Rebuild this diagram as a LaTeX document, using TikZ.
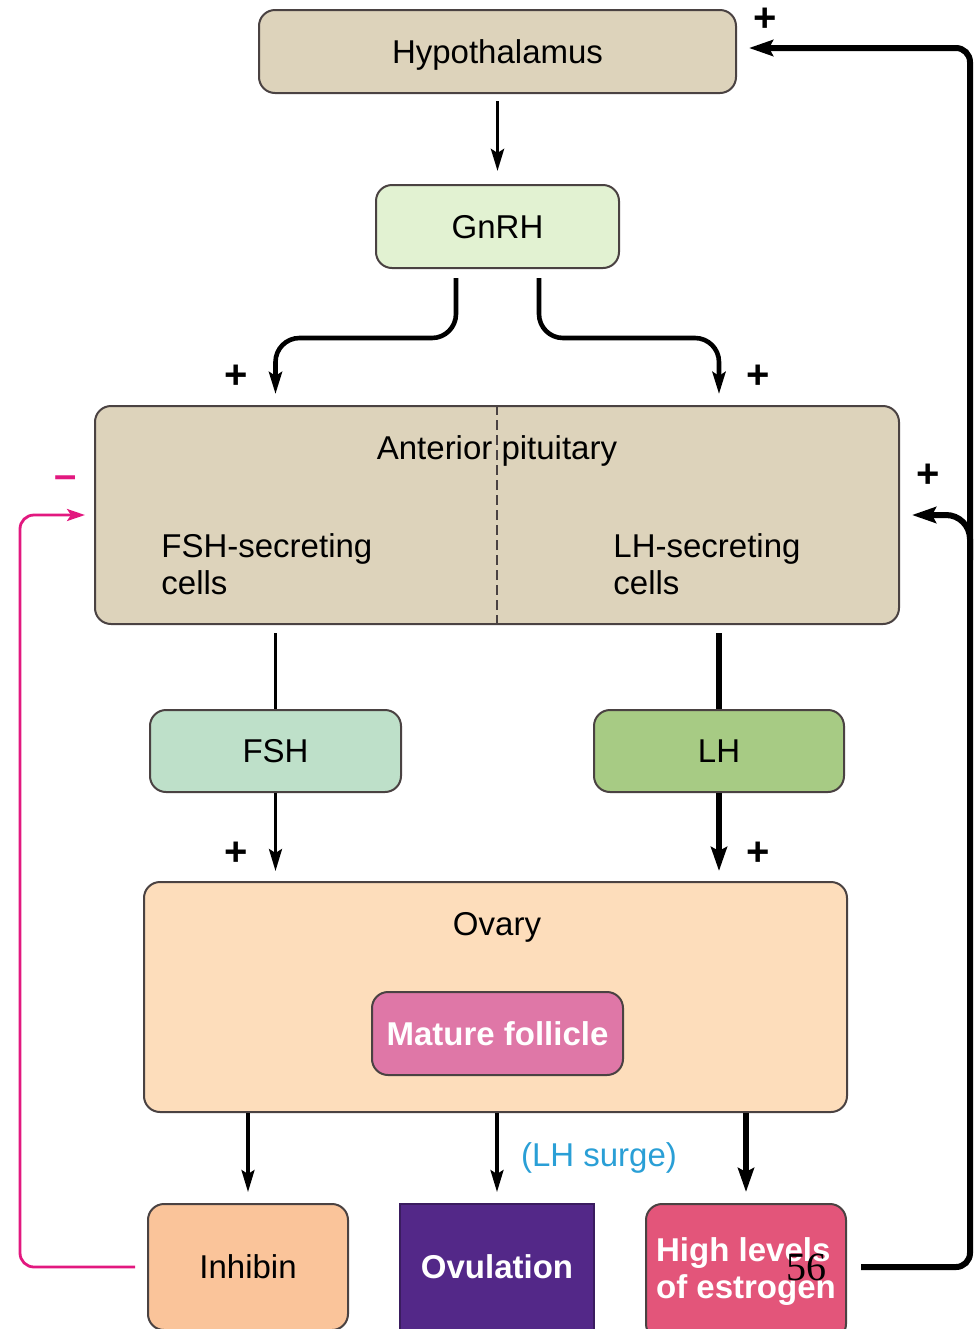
\documentclass[tikz,border=0pt]{standalone}
\usepackage{fontspec}
\setmainfont{Liberation Sans}
\newfontfamily\pagefont{Liberation Serif}
\usetikzlibrary{arrows.meta}

\definecolor{boxline}{HTML}{4A4242}
\definecolor{tanbox}{HTML}{DDD3BB}
\definecolor{gnrhgreen}{HTML}{E2F2D2}
\definecolor{fshgreen}{HTML}{BEE0C9}
\definecolor{lhgreen}{HTML}{A7CB84}
\definecolor{ovarypeach}{HTML}{FDDDBB}
\definecolor{folliclepink}{HTML}{DF77A7}
\definecolor{inhibinorange}{HTML}{FAC49A}
\definecolor{ovpurple}{HTML}{532888}
\definecolor{estrogenred}{HTML}{E3557A}
\definecolor{surgeblue}{HTML}{2A9FD6}
\definecolor{inhpink}{HTML}{E2187F}

\tikzset{
  box/.style={draw=boxline, line width=1pt, rounded corners=8pt, inner sep=0pt,
    align=center, font=\fontsize{16.5}{18.5}\selectfont},
  onel/.style={text height=11.9pt, text depth=0pt},
  lbl/.style={inner sep=0pt, font=\fontsize{16.5}{18.5}\selectfont},
  whitebold/.style={text=white, font=\fontsize{16.5}{18.5}\selectfont\bfseries},
  plus/.style={inner sep=0pt, font=\fontsize{20}{20}\selectfont\bfseries},
  arr/.style={line width=1.6pt, -{Stealth[length=11pt,width=6.5pt,inset=2pt]}},
  bigarr/.style={line width=2.8pt, -{Stealth[length=12pt,width=8pt,inset=2pt]}},
  fb/.style={line width=3pt, rounded corners=7pt, -{Stealth[length=12pt,width=8pt,inset=2pt]}},
  inh/.style={draw=inhpink, line width=1.4pt, rounded corners=7pt,
    -{Stealth[length=9pt,width=6pt,inset=2pt]}}
}

\begin{document}
\begin{tikzpicture}[x=0.5pt,y=0.5pt,yscale=-1]
\clip (0,0) rectangle (974,1329);

% Boxes
\node[box, onel, fill=tanbox, minimum width=238.5pt, minimum height=41.5pt] (hypo) at (497.5,51.5) {Hypothalamus};
\node[box, onel, fill=gnrhgreen, minimum width=121.5pt, minimum height=41.5pt] (gnrh) at (497.5,226.5) {GnRH};
\node[box, fill=tanbox, minimum width=402pt, minimum height=109pt] (pit) at (497,515) {};
\node[box, onel, fill=fshgreen, minimum width=125.5pt, minimum height=41pt] (fsh) at (275.5,751) {FSH};
\node[box, onel, fill=lhgreen, minimum width=125pt, minimum height=41pt] (lh) at (719,751) {LH};
\node[box, fill=ovarypeach, minimum width=351.5pt, minimum height=115pt] (ovary) at (495.5,997) {};
\node[box, onel, whitebold, fill=folliclepink, minimum width=125.5pt, minimum height=41.5pt] (follicle) at (497.5,1033.5) {Mature follicle};
\node[box, onel, fill=inhibinorange, minimum width=100pt, minimum height=63pt] (inhibin) at (248,1267) {Inhibin};
\node[box, onel, whitebold, sharp corners, draw=ovpurple!70!black, fill=ovpurple, minimum width=97pt, minimum height=63pt] (ovulation) at (497,1267) {Ovulation};
\node[box, whitebold, align=left, fill=estrogenred, minimum width=100pt, minimum height=68pt] (estrogen) at (746,1272) {High levels\\of estrogen};

% Divider in anterior pituitary
\draw[boxline, line width=0.7pt, dash pattern=on 5pt off 2.5pt] (pit.north) -- (pit.south);

% Text Node
\node[lbl, anchor=base] (pittitle) at (497,459) {Anterior pituitary};
\node[lbl, anchor=north west, align=left] (fshcells) at (161,533) {FSH-secreting\\cells};
\node[lbl, anchor=north west, align=left] (lhcells) at (613,533) {LH-secreting\\cells};
\node[lbl, anchor=base] (ovarytitle) at (497,935) {Ovary};
\node[lbl, text=surgeblue] (surge) at (599,1158) {(LH surge)};
\node[inner sep=0pt, font=\pagefont\fontsize{20}{20}\selectfont] (pagenum) at (806,1267) {56};

% Signs
\node[plus] (phypo) at (765,20) {+};
\node[plus] (pgl) at (236,377) {+};
\node[plus] (pgr) at (758,377) {+};
\node[plus] (ppit) at (928,476) {+};
\node[plus, text=inhpink] (minus) at (66,482) {--};
\node[plus] (pfsh) at (236,854) {+};
\node[plus] (plh) at (758,854) {+};

% Rails
\coordinate (rrail) at (970,560);
\coordinate (lrail) at (20,800);

% Arrows
\draw[arr, line width=1.9pt, shorten <=3.5pt, shorten >=6.5pt] (hypo.south) -- (gnrh.north);
\draw[arr, line width=2.3pt, rounded corners=12pt, shorten <=4.5pt, shorten >=5.5pt]
  ([xshift=-20.75pt]gnrh.south) |- ([yshift=34.5pt]gnrh.south -| fsh) -- (pit.north -| fsh);
\draw[arr, line width=2.3pt, rounded corners=12pt, shorten <=4.5pt, shorten >=5.5pt]
  ([xshift=20.75pt]gnrh.south) |- ([yshift=34.5pt]gnrh.south -| lh) -- (pit.north -| lh);
\draw[line width=1.6pt, shorten <=4pt] (pit.south -| fsh) -- (fsh.north);
\draw[line width=2.8pt, shorten <=4pt] (pit.south -| lh) -- (lh.north);
\draw[arr, shorten >=5pt] (fsh.south) -- (ovary.north -| fsh);
\draw[bigarr, shorten >=5pt] (lh.south) -- (ovary.north -| lh);
\draw[arr, shorten >=5.5pt] (ovary.south -| inhibin) -- (inhibin.north);
\draw[arr, shorten >=5.5pt] (ovary.south -| ovulation) -- (ovulation.north);
\draw[bigarr, shorten >=5.5pt] (ovary.south -| estrogen) -- (estrogen.north);

% Feedback
\draw[fb, shorten <=7pt, shorten >=6pt] ([yshift=-2.5pt]estrogen.east) -| (rrail) |- ([yshift=-1.75pt]hypo.east);
\draw[fb, rounded corners=12pt, shorten >=6pt] (rrail) |- (pit.east);
\draw[inh, shorten <=6pt, shorten >=4.5pt] (inhibin.west) -| (lrail) |- (pit.west);

\end{tikzpicture}
\end{document}
